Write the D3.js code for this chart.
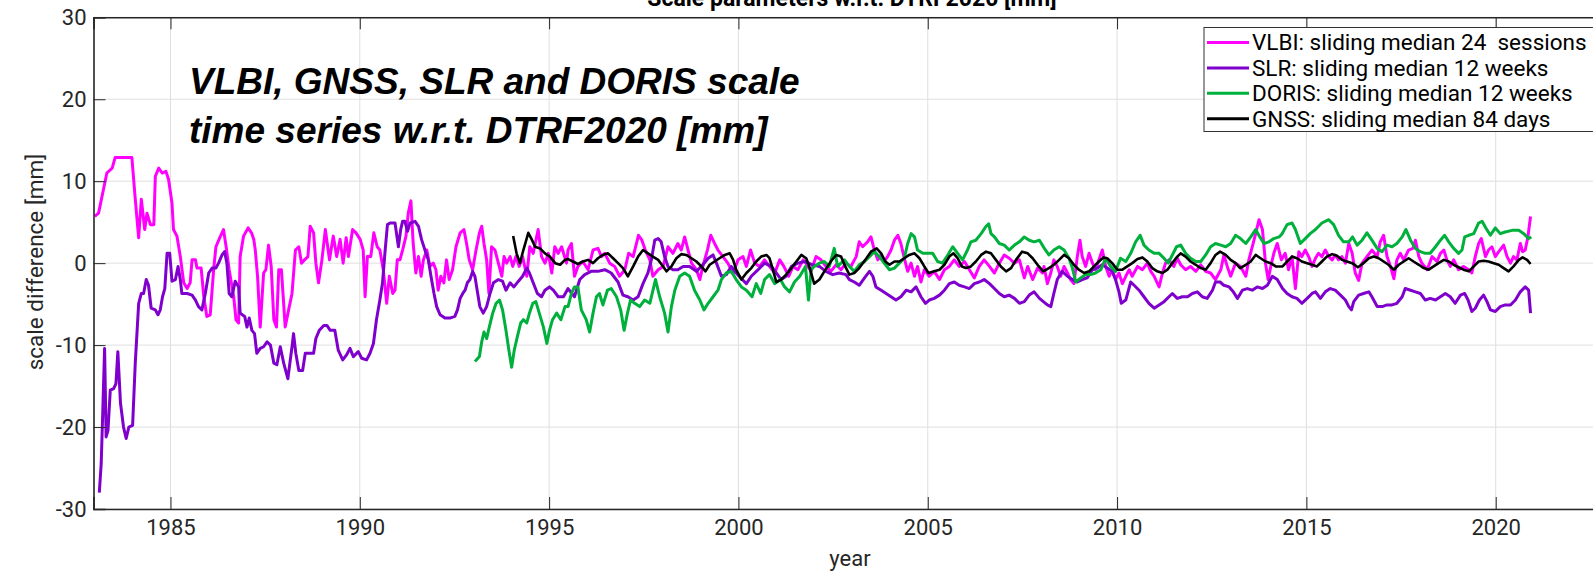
<!DOCTYPE html>
<html>
<head>
<meta charset="utf-8">
<script src="https://cdn.jsdelivr.net/npm/d3@7"></script>
<style>
  body { margin: 0; background: #fff; }
  text { font-family: Roboto, "Liberation Sans", sans-serif; }
</style>
</head>
<body>
<div class="canvas"></div>
<script>
const width = 1593;
const height = 573;

// series: [year, scale difference mm]
const vlbi = [
  [1983.00, 5.7], [1983.10, 6.1], [1983.32, 11.0], [1983.46, 11.6], [1983.54, 12.9], [1983.98, 12.9],
  [1984.07, 7.8], [1984.16, 3.1], [1984.23, 7.8], [1984.32, 4.1], [1984.38, 6.1], [1984.47, 4.7],
  [1984.56, 4.7], [1984.60, 10.6], [1984.69, 11.6], [1984.78, 11.0], [1984.88, 11.2], [1984.95, 10.2],
  [1985.04, 7.3], [1985.08, 4.1], [1985.17, 3.3], [1985.26, 0.8], [1985.35, -2.4], [1985.44, -3.1],
  [1985.52, -2.4], [1985.57, 0.4], [1985.66, 0.4], [1985.70, -0.6], [1985.81, -0.6], [1985.88, -4.1],
  [1985.96, -6.5], [1986.05, -6.3], [1986.14, -0.8], [1986.20, 2.0], [1986.32, 3.3], [1986.40, 4.1],
  [1986.47, 2.0], [1986.55, -0.8], [1986.67, -4.1], [1986.73, -6.9], [1986.80, -7.3], [1986.84, 0.8],
  [1986.93, 3.3], [1987.05, 4.3], [1987.14, 3.7], [1987.20, 2.9], [1987.24, 1.6], [1987.30, -1.6],
  [1987.37, -7.8], [1987.46, -1.2], [1987.52, -0.8], [1987.59, 2.2], [1987.66, -0.4], [1987.73, -6.9],
  [1987.80, -7.8], [1987.86, -0.8], [1987.93, -0.8], [1988.03, -7.8], [1988.12, -5.7], [1988.21, -3.7],
  [1988.30, 1.6], [1988.39, 2.0], [1988.46, 0.0], [1988.54, 0.4], [1988.63, 0.8], [1988.69, 4.5],
  [1988.78, 3.7], [1988.84, 0.0], [1988.91, -2.4], [1989.00, 0.4], [1989.09, 4.1], [1989.20, 0.4],
  [1989.30, 3.3], [1989.39, 0.8], [1989.48, 2.9], [1989.56, 0.0], [1989.64, 3.1], [1989.70, 0.8],
  [1989.81, 4.1], [1989.90, 3.7], [1990.01, 2.9], [1990.09, 1.6], [1990.14, -4.1], [1990.20, 0.8],
  [1990.29, 0.8], [1990.37, 3.7], [1990.46, 2.0], [1990.53, 1.6], [1990.62, -0.8], [1990.71, -4.9],
  [1990.78, -1.6], [1990.87, -3.7], [1990.93, -3.3], [1990.99, 0.4], [1991.06, 0.4], [1991.13, 1.6],
  [1991.22, 3.3], [1991.28, 6.1], [1991.35, 7.6], [1991.41, 2.4], [1991.48, -1.2], [1991.55, 0.8],
  [1991.62, -1.6], [1991.68, 0.4], [1991.77, 1.6], [1991.85, -0.4], [1991.94, 0.0], [1992.01, -0.8],
  [1992.07, -3.3], [1992.14, -1.6], [1992.22, -2.4], [1992.29, 0.4], [1992.36, -2.0], [1992.45, -0.8],
  [1992.54, 2.0], [1992.65, 3.7], [1992.75, 4.1], [1992.82, 2.4], [1992.89, 0.4], [1992.98, -0.8],
  [1993.07, 1.6], [1993.16, 3.7], [1993.22, 4.5], [1993.28, 2.4], [1993.35, 0.4], [1993.41, -3.7],
  [1993.48, 2.0], [1993.57, 1.6], [1993.66, 0.0], [1993.75, -1.6], [1993.81, 0.8], [1993.88, 0.0],
  [1993.97, 0.8], [1994.04, -0.4], [1994.12, 0.8], [1994.21, -0.4], [1994.30, 0.8], [1994.41, -1.6],
  [1994.49, 2.0], [1994.58, 1.2], [1994.71, 4.1], [1994.80, 0.8], [1994.89, 0.0], [1994.98, 1.2],
  [1995.07, -1.2], [1995.15, 2.0], [1995.24, 1.2], [1995.33, 2.0], [1995.46, 0.0],
  [1995.50, 1.6], [1995.59, 2.4], [1995.67, -1.6], [1995.76, -0.4], [1995.89, 0.2], [1996.03, -0.8],
  [1996.16, 1.6], [1996.29, 1.8], [1996.38, 0.8], [1996.47, 1.2], [1996.60, 0.0], [1996.73, -0.4],
  [1996.86, -1.6], [1997.00, -0.8], [1997.10, 1.2], [1997.22, 0.8], [1997.36, 3.4], [1997.45, 2.8],
  [1997.54, 1.6], [1997.66, 0.4], [1997.74, -1.6], [1997.88, -0.8], [1998.01, -0.4], [1998.14, 2.0],
  [1998.27, 1.2], [1998.40, 2.4], [1998.49, 1.6], [1998.58, 3.2], [1998.67, 1.6], [1998.76, 0.0],
  [1998.89, -0.8], [1998.98, -2.0], [1999.06, -0.4], [1999.18, 1.6], [1999.27, 3.4], [1999.37, 2.4],
  [1999.46, 1.6], [1999.59, 0.8], [1999.72, 0.0], [1999.86, -1.2], [1999.99, 0.4], [2000.12, 0.8],
  [2000.21, -0.4], [2000.32, 1.6], [2000.43, 0.0], [2000.56, -0.4], [2000.69, 0.4], [2000.82, -0.4],
  [2000.96, -1.2], [2001.09, 0.4], [2001.20, -0.4], [2001.33, -1.6], [2001.44, -0.4], [2001.57, -0.8],
  [2001.71, 0.4], [2001.78, 0.0], [2001.92, -1.0], [2002.05, 0.8], [2002.18, 0.4], [2002.31, -0.4],
  [2002.44, -1.0], [2002.58, -0.2], [2002.71, -0.8], [2002.84, 0.0], [2002.97, -0.4], [2003.11, 0.8],
  [2003.19, 2.6], [2003.28, 2.0], [2003.41, 2.6], [2003.50, 3.2], [2003.59, 1.6], [2003.68, 0.4],
  [2003.77, 1.0], [2003.85, 0.2], [2003.94, 0.8], [2004.03, 1.6], [2004.12, 2.8], [2004.21, 3.4],
  [2004.29, 2.4], [2004.38, 0.6], [2004.47, -1.0], [2004.56, 0.0], [2004.65, -1.6], [2004.73, -0.4],
  [2004.82, -2.3], [2004.91, -0.8], [2005.04, -1.6], [2005.17, -1.0], [2005.31, -2.0], [2005.44, -0.8],
  [2005.57, -0.4], [2005.70, 0.4], [2005.83, -0.4], [2005.97, 0.2], [2006.10, -0.8], [2006.23, -1.8],
  [2006.36, -0.4], [2006.49, 0.4], [2006.63, -0.4], [2006.76, -1.2], [2006.89, 0.0], [2007.02, 1.0],
  [2007.15, 0.6], [2007.29, 0.0], [2007.42, 0.4], [2007.55, -1.8], [2007.64, -0.4], [2007.77, -2.0],
  [2007.90, -0.6], [2008.03, -1.2], [2008.07, -0.4], [2008.16, -2.5], [2008.25, -1.2], [2008.33, 0.4],
  [2008.42, -0.4], [2008.51, -1.6], [2008.60, -0.4], [2008.69, -1.2], [2008.77, -2.0], [2008.86, -2.5],
  [2008.95, 0.8], [2009.02, 2.8], [2009.08, 0.8], [2009.17, -0.4], [2009.26, 1.2], [2009.35, 0.0],
  [2009.43, -0.8], [2009.52, 0.4], [2009.61, 1.6], [2009.70, -0.4], [2009.79, -1.6], [2009.87, -0.8],
  [2009.96, -2.0], [2010.05, -1.2], [2010.14, -2.5], [2010.23, -1.6], [2010.32, -0.8], [2010.40, -1.6],
  [2010.54, -0.4], [2010.67, -0.8], [2010.80, 0.0], [2010.89, -1.0], [2010.98, -1.6], [2011.11, -2.9],
  [2011.20, -1.2], [2011.28, 0.0], [2011.37, 0.4], [2011.50, -0.4], [2011.59, 0.6], [2011.68, -0.2],
  [2011.81, -0.8], [2011.94, -0.4], [2012.08, -1.0], [2012.21, -0.2], [2012.34, -1.0], [2012.47, -1.2],
  [2012.60, -2.0], [2012.74, -0.8], [2012.82, 1.0], [2012.91, -0.4], [2013.00, -1.6], [2013.13, 0.0],
  [2013.26, -0.4], [2013.40, -1.6], [2013.48, 0.4], [2013.57, 2.0], [2013.66, 3.6], [2013.75, 5.3],
  [2013.84, 4.1], [2013.92, 0.0], [2013.99, -2.0], [2014.06, -0.4], [2014.14, 1.2], [2014.23, 2.4],
  [2014.34, 0.4], [2014.44, 1.2], [2014.53, -0.8], [2014.62, 0.8], [2014.71, -3.1], [2014.80, 1.4],
  [2014.88, 0.8], [2014.97, 1.6], [2015.06, 0.8], [2015.15, -0.4], [2015.24, 0.6], [2015.32, 1.2],
  [2015.41, 0.8], [2015.50, 1.6], [2015.59, 0.8], [2015.68, 0.4], [2015.76, 1.0], [2015.85, 0.4],
  [2015.94, 0.8], [2016.03, 0.0], [2016.12, 2.4], [2016.21, 1.2], [2016.29, -1.2], [2016.38, -2.1],
  [2016.47, 0.0], [2016.60, 0.8], [2016.73, 1.6], [2016.87, 0.8], [2016.95, 2.6], [2017.04, 3.4],
  [2017.13, 0.8], [2017.22, -0.4], [2017.31, -1.9], [2017.39, 0.4], [2017.48, 1.2], [2017.57, 0.4],
  [2017.70, 1.6], [2017.81, 1.8], [2017.88, 2.8], [2017.97, 0.8], [2018.05, 0.0], [2018.19, -0.8],
  [2018.32, 0.8], [2018.45, 0.2], [2018.54, 1.2], [2018.63, 1.6], [2018.71, 0.4], [2018.80, -0.4],
  [2018.89, 0.4], [2019.02, -0.8], [2019.15, -0.4], [2019.29, -0.8], [2019.37, -1.2], [2019.46, 0.8],
  [2019.55, 2.4], [2019.62, 3.0], [2019.73, 0.8], [2019.81, 1.6], [2019.90, 2.0], [2019.99, 0.8],
  [2020.08, 1.4], [2020.21, 2.2], [2020.30, 0.8], [2020.39, 0.0], [2020.47, 0.8], [2020.56, 0.4],
  [2020.65, 2.4], [2020.71, 1.4], [2020.78, 1.6], [2020.85, 3.2], [2020.92, 5.7]
];

const slr = [
  [1983.12, -28.0], [1983.17, -24.5], [1983.21, -18.4], [1983.26, -10.4], [1983.30, -21.2], [1983.35, -20.4],
  [1983.41, -15.5], [1983.50, -15.3], [1983.56, -14.7], [1983.61, -10.8], [1983.68, -17.1], [1983.76, -20.0],
  [1983.83, -21.4], [1983.90, -20.0], [1984.00, -19.8], [1984.07, -12.2], [1984.16, -4.9], [1984.23, -3.7],
  [1984.29, -3.7], [1984.36, -2.0], [1984.42, -2.7], [1984.49, -5.5], [1984.60, -5.7], [1984.67, -6.3],
  [1984.73, -5.7], [1984.79, -4.1], [1984.85, -3.1], [1984.91, 1.2], [1984.98, 1.2], [1985.04, -2.2],
  [1985.13, -2.0], [1985.20, -0.4], [1985.26, -2.0], [1985.30, -3.7], [1985.44, -3.7], [1985.57, -3.9],
  [1985.66, -4.5], [1985.74, -5.3], [1985.83, -5.7], [1985.92, -3.7], [1986.01, -1.2], [1986.10, -0.6],
  [1986.20, -0.6], [1986.27, 0.0], [1986.36, 1.0], [1986.43, 1.4], [1986.49, 0.0], [1986.55, -3.7],
  [1986.62, -4.1], [1986.71, -2.2], [1986.80, -2.9], [1986.84, -6.1], [1986.96, -6.5], [1987.02, -7.8],
  [1987.08, -6.7], [1987.15, -8.2], [1987.22, -8.6], [1987.28, -11.0], [1987.37, -10.4], [1987.46, -10.2],
  [1987.55, -9.6], [1987.64, -10.0], [1987.73, -12.2], [1987.81, -12.4], [1987.90, -10.2], [1987.99, -12.2],
  [1988.10, -14.1], [1988.21, -10.2], [1988.25, -8.6], [1988.31, -11.0], [1988.39, -13.1], [1988.49, -13.1],
  [1988.56, -11.0], [1988.65, -11.0], [1988.78, -11.0], [1988.84, -9.2], [1988.93, -8.2], [1989.05, -7.6],
  [1989.13, -7.6], [1989.22, -8.2], [1989.34, -8.2], [1989.43, -10.6], [1989.55, -11.8], [1989.65, -11.2],
  [1989.74, -10.4], [1989.83, -11.4], [1989.96, -10.8], [1990.05, -11.6], [1990.18, -11.8], [1990.27, -11.0],
  [1990.36, -9.8], [1990.44, -6.9], [1990.53, -4.5], [1990.60, -2.4], [1990.67, 1.6], [1990.73, 4.7],
  [1990.80, 4.9], [1990.93, 4.9], [1991.02, 2.0], [1991.08, 4.1], [1991.13, 5.1], [1991.19, 5.1],
  [1991.26, 3.9], [1991.33, 4.9], [1991.46, 5.1], [1991.55, 4.5], [1991.63, 2.9], [1991.72, 1.6],
  [1991.81, 0.4], [1991.88, -1.6], [1991.96, -3.7], [1992.03, -5.3], [1992.12, -6.3], [1992.25, -6.7],
  [1992.38, -6.7], [1992.51, -6.5], [1992.58, -5.7], [1992.65, -4.3], [1992.72, -3.7], [1992.78, -3.3],
  [1992.84, -2.4], [1992.91, -2.0], [1992.98, -1.0], [1993.04, -1.6], [1993.10, -3.3], [1993.17, -5.3],
  [1993.26, -6.1], [1993.35, -5.3], [1993.44, -3.7], [1993.53, -2.4], [1993.66, -2.0], [1993.77, -2.2],
  [1993.86, -3.3], [1993.97, -2.4], [1994.07, -2.9], [1994.19, -2.2], [1994.30, -1.6], [1994.41, -0.6],
  [1994.48, -1.2], [1994.58, -2.4], [1994.69, -3.7], [1994.80, -4.1], [1994.89, -3.3], [1995.01, -2.9],
  [1995.11, -3.3], [1995.24, -4.1], [1995.38, -4.1], [1995.50, -3.1], [1995.67, -4.1], [1995.81, -2.0],
  [1995.94, -1.4], [1996.11, -1.0], [1996.29, -1.0], [1996.47, -0.8], [1996.64, -1.2], [1996.82, -2.3],
  [1996.95, -3.9], [1997.08, -4.1], [1997.22, -4.5], [1997.35, -4.1], [1997.48, -2.5], [1997.61, -1.2],
  [1997.70, 0.4], [1997.79, 2.8], [1997.88, 3.0], [1997.96, 2.6], [1998.05, 0.8], [1998.14, -0.4],
  [1998.27, -0.8], [1998.40, -0.8], [1998.54, -0.4], [1998.71, -0.4], [1998.89, -1.0], [1999.06, -0.2],
  [1999.20, 0.6], [1999.33, 1.0], [1999.42, 0.0], [1999.55, -1.6], [1999.68, -1.4], [1999.81, -0.4],
  [1999.94, -1.2], [2000.08, -1.9], [2000.21, -2.5], [2000.34, -1.6], [2000.52, -0.8], [2000.69, 0.0],
  [2000.87, -0.4], [2001.00, -1.2], [2001.13, -2.0], [2001.26, -1.6], [2001.40, -0.4], [2001.57, 0.0],
  [2001.75, 0.2], [2001.96, -0.2], [2002.14, -0.4], [2002.31, -1.0], [2002.49, -1.4], [2002.66, -1.2],
  [2002.84, -1.4], [2002.93, -2.0], [2003.06, -2.3], [2003.19, -2.7], [2003.33, -1.8], [2003.46, -1.0],
  [2003.55, -1.6], [2003.63, -2.9], [2003.77, -3.3], [2003.90, -3.7], [2004.03, -4.1], [2004.16, -4.5],
  [2004.29, -4.1], [2004.43, -3.3], [2004.56, -3.5], [2004.69, -2.9], [2004.82, -4.1], [2004.94, -4.9],
  [2005.04, -4.5], [2005.17, -4.3], [2005.31, -3.9], [2005.44, -3.3], [2005.57, -2.5], [2005.70, -2.3],
  [2005.83, -2.7], [2005.97, -2.9], [2006.10, -3.1], [2006.23, -2.5], [2006.36, -2.3], [2006.49, -2.0],
  [2006.63, -2.5], [2006.76, -3.1], [2006.89, -3.7], [2007.02, -4.1], [2007.15, -3.9], [2007.29, -4.3],
  [2007.42, -4.9], [2007.55, -4.7], [2007.68, -3.9], [2007.81, -3.5], [2007.95, -4.3], [2008.11, -4.9],
  [2008.16, -5.1], [2008.25, -5.3], [2008.33, -3.7], [2008.42, -2.0], [2008.55, -1.0], [2008.69, -1.6],
  [2008.82, -2.0], [2008.95, -2.3], [2009.08, -2.0], [2009.21, -1.8], [2009.35, -0.8], [2009.48, -0.6],
  [2009.61, -0.2], [2009.74, -0.6], [2009.87, -1.0], [2009.96, -2.0], [2010.05, -3.5], [2010.11, -4.9],
  [2010.23, -4.5], [2010.36, -2.3], [2010.45, -2.7], [2010.58, -3.3], [2010.71, -4.1], [2010.84, -4.9],
  [2010.98, -5.5], [2011.11, -5.1], [2011.24, -4.7], [2011.37, -4.1], [2011.46, -3.7], [2011.59, -4.3],
  [2011.72, -4.1], [2011.86, -4.1], [2011.99, -3.7], [2012.12, -3.5], [2012.25, -4.1], [2012.38, -4.3],
  [2012.52, -3.3], [2012.60, -2.3], [2012.72, -2.3], [2012.82, -2.7], [2012.96, -2.9], [2013.07, -3.5],
  [2013.18, -4.3], [2013.31, -3.3], [2013.44, -3.1], [2013.57, -3.3], [2013.70, -2.9], [2013.84, -3.1],
  [2013.97, -2.7], [2014.10, -1.6], [2014.23, -2.0], [2014.37, -3.1], [2014.49, -3.7], [2014.62, -4.1],
  [2014.75, -4.3], [2014.88, -4.9], [2015.02, -4.3], [2015.15, -3.7], [2015.24, -3.5], [2015.37, -4.3],
  [2015.50, -3.5], [2015.63, -3.1], [2015.76, -3.3], [2015.90, -3.9], [2016.03, -4.5], [2016.12, -5.3],
  [2016.19, -5.7], [2016.25, -4.7], [2016.38, -3.9], [2016.51, -3.7], [2016.65, -3.5], [2016.73, -4.1],
  [2016.87, -5.3], [2017.00, -5.3], [2017.13, -5.1], [2017.26, -5.1], [2017.39, -4.9], [2017.53, -4.1],
  [2017.61, -3.1], [2017.75, -3.3], [2017.88, -3.5], [2018.01, -3.7], [2018.14, -4.5], [2018.27, -4.3],
  [2018.41, -4.5], [2018.54, -4.1], [2018.67, -3.7], [2018.80, -4.1], [2018.93, -4.9], [2019.07, -3.9],
  [2019.18, -3.7], [2019.27, -4.5], [2019.37, -5.9], [2019.46, -5.5], [2019.57, -4.5], [2019.68, -3.9],
  [2019.77, -4.7], [2019.86, -5.7], [2019.99, -5.9], [2020.12, -5.3], [2020.25, -5.1], [2020.39, -5.1],
  [2020.52, -4.5], [2020.65, -3.5], [2020.78, -2.9], [2020.87, -3.3], [2020.92, -6.1]
];

const doris = [
  [1993.04, -12.0], [1993.16, -11.4], [1993.22, -9.6], [1993.28, -8.4], [1993.35, -9.2], [1993.42, -7.8],
  [1993.51, -6.1], [1993.60, -4.9], [1993.69, -4.5], [1993.77, -5.7], [1993.86, -8.2], [1993.95, -11.0],
  [1994.01, -12.7], [1994.08, -10.6], [1994.16, -9.0], [1994.25, -7.3], [1994.32, -6.9], [1994.41, -7.3],
  [1994.48, -6.1], [1994.57, -4.9], [1994.65, -4.7], [1994.74, -6.1], [1994.85, -7.8], [1994.94, -9.8],
  [1995.01, -8.2], [1995.09, -6.9], [1995.20, -6.1], [1995.31, -6.9], [1995.42, -5.3], [1995.50, -5.3],
  [1995.59, -3.7], [1995.67, -2.9], [1995.76, -2.9], [1995.85, -5.7], [1995.98, -6.9], [1996.07, -8.4],
  [1996.16, -6.1], [1996.25, -4.1], [1996.33, -3.7], [1996.42, -5.1], [1996.54, -3.3], [1996.64, -3.1],
  [1996.78, -4.1], [1996.89, -5.7], [1996.98, -8.2], [1997.07, -6.1], [1997.15, -4.5], [1997.26, -4.9],
  [1997.39, -5.3], [1997.52, -4.5], [1997.66, -4.9], [1997.81, -2.0], [1997.92, -4.1], [1998.05, -6.1],
  [1998.14, -8.4], [1998.23, -5.3], [1998.32, -3.3], [1998.45, -1.6], [1998.58, -1.2], [1998.71, -1.6],
  [1998.84, -3.3], [1998.98, -4.5], [1999.09, -5.7], [1999.20, -4.9], [1999.33, -4.1], [1999.46, -3.3],
  [1999.55, -2.0], [1999.68, -1.2], [1999.81, -1.0], [1999.94, -2.0], [2000.08, -2.9], [2000.21, -3.3],
  [2000.36, -4.1], [2000.47, -2.5], [2000.59, -3.7], [2000.69, -2.0], [2000.82, -1.4], [2000.96, -2.5],
  [2001.11, -2.0], [2001.22, -2.9], [2001.35, -3.5], [2001.48, -2.3], [2001.62, -1.6], [2001.77, -0.4],
  [2001.85, -4.5], [2001.92, -0.8], [2002.00, -0.4], [2002.14, 0.0], [2002.27, 0.2], [2002.40, -0.4],
  [2002.53, 1.8], [2002.62, -0.4], [2002.71, 0.0], [2002.80, 0.4], [2002.93, -0.4], [2003.06, -1.0],
  [2003.19, -0.2], [2003.33, 0.2], [2003.46, 0.8], [2003.59, 1.4], [2003.72, 0.8], [2003.85, 0.0],
  [2003.99, -0.8], [2004.12, -0.6], [2004.25, 0.0], [2004.38, 0.6], [2004.47, 2.4], [2004.56, 3.6],
  [2004.65, 3.2], [2004.73, 1.6], [2004.87, 1.2], [2005.00, 1.2], [2005.13, 1.2], [2005.26, 0.2],
  [2005.39, 0.0], [2005.53, 1.0], [2005.66, 2.0], [2005.79, 1.2], [2005.92, 0.4], [2006.05, 1.6],
  [2006.14, 2.6], [2006.27, 2.8], [2006.41, 3.6], [2006.54, 4.5], [2006.61, 4.8], [2006.67, 3.6],
  [2006.76, 3.2], [2006.89, 2.4], [2007.02, 2.2], [2007.15, 1.6], [2007.29, 2.2], [2007.42, 2.6],
  [2007.55, 3.2], [2007.68, 2.8], [2007.81, 2.6], [2007.95, 2.8], [2008.08, 1.8], [2008.20, 1.0],
  [2008.33, 1.6], [2008.47, 2.0], [2008.60, 1.6], [2008.73, 0.6], [2008.82, -0.6], [2008.91, -2.3],
  [2009.04, -1.8], [2009.17, -1.4], [2009.30, -1.4], [2009.43, -1.2], [2009.57, -0.8], [2009.70, 0.6],
  [2009.83, -0.4], [2009.96, -1.0], [2010.09, 0.6], [2010.23, 0.2], [2010.36, 1.2], [2010.49, 2.6],
  [2010.61, 3.4], [2010.71, 2.2], [2010.84, 1.6], [2010.98, 1.2], [2011.11, 1.2], [2011.24, 0.6],
  [2011.35, 0.0], [2011.46, 1.0], [2011.57, 2.0], [2011.68, 2.2], [2011.81, 1.2], [2011.94, 0.6],
  [2012.08, 0.2], [2012.21, 0.2], [2012.34, 1.0], [2012.47, 2.0], [2012.60, 2.4], [2012.74, 2.2],
  [2012.87, 2.0], [2013.00, 2.4], [2013.13, 3.4], [2013.26, 3.0], [2013.40, 2.4], [2013.53, 3.2],
  [2013.66, 4.1], [2013.77, 3.2], [2013.88, 2.4], [2014.01, 2.6], [2014.14, 3.0], [2014.28, 3.2],
  [2014.36, 3.6], [2014.49, 4.7], [2014.62, 4.9], [2014.71, 4.1], [2014.84, 2.4], [2014.97, 3.0],
  [2015.10, 3.6], [2015.24, 4.1], [2015.41, 4.9], [2015.59, 5.3], [2015.72, 4.7], [2015.85, 3.4],
  [2015.98, 2.6], [2016.12, 2.6], [2016.22, 3.2], [2016.34, 2.2], [2016.47, 2.8], [2016.60, 3.7],
  [2016.73, 2.8], [2016.87, 1.8], [2017.00, 1.4], [2017.13, 2.2], [2017.26, 2.0], [2017.39, 2.4],
  [2017.53, 3.2], [2017.63, 4.1], [2017.75, 2.8], [2017.88, 1.8], [2018.01, 1.4], [2018.14, 1.2],
  [2018.27, 1.2], [2018.41, 2.0], [2018.54, 2.8], [2018.65, 3.4], [2018.76, 2.6], [2018.89, 1.8],
  [2019.02, 1.2], [2019.11, 1.6], [2019.18, 3.2], [2019.29, 3.4], [2019.42, 3.6], [2019.55, 4.9],
  [2019.64, 5.1], [2019.74, 4.3], [2019.86, 3.4], [2019.99, 4.3], [2020.12, 3.6], [2020.25, 3.8],
  [2020.43, 4.0], [2020.61, 4.0], [2020.74, 3.6], [2020.87, 3.0], [2020.94, 3.2]
];

const gnss = [
  [1994.05, 3.3], [1994.14, 1.2], [1994.23, 0.0], [1994.32, 1.6], [1994.45, 3.7], [1994.54, 2.9],
  [1994.63, 2.0], [1994.76, 1.8], [1994.89, 1.2], [1995.02, 0.8], [1995.16, 0.0], [1995.29, -0.2],
  [1995.42, 0.4], [1995.50, 0.5], [1995.63, 0.2], [1995.76, -0.1], [1995.89, 0.2], [1996.03, 0.4],
  [1996.16, 0.0], [1996.29, 0.6], [1996.42, 1.0], [1996.55, 1.2], [1996.69, 0.6], [1996.82, 0.0],
  [1996.95, -0.6], [1997.08, -1.6], [1997.22, -0.4], [1997.35, 0.8], [1997.48, 1.6], [1997.61, 1.2],
  [1997.74, 0.8], [1997.88, 0.4], [1998.01, -0.4], [1998.10, -1.0], [1998.23, -0.4], [1998.36, 0.6],
  [1998.49, 1.1], [1998.62, 1.0], [1998.76, 0.6], [1998.89, 0.2], [1999.02, -0.4], [1999.13, -1.0],
  [1999.24, -0.2], [1999.37, 0.2], [1999.50, 0.6], [1999.64, 1.0], [1999.77, 1.2], [1999.86, 0.4],
  [1999.94, -0.8], [2000.08, -2.0], [2000.21, -1.2], [2000.34, -0.6], [2000.47, 0.2], [2000.60, 0.8],
  [2000.74, 1.0], [2000.82, 0.6], [2000.91, -0.8], [2001.00, -2.3], [2001.13, -2.0], [2001.26, -1.4],
  [2001.40, -0.6], [2001.53, 0.2], [2001.66, 1.0], [2001.79, 0.6], [2001.87, -0.4], [2002.00, -2.5],
  [2002.14, -2.0], [2002.27, -1.0], [2002.44, 0.2], [2002.58, 1.0], [2002.71, 0.8], [2002.82, -0.4],
  [2002.93, -1.4], [2003.06, -1.2], [2003.19, -0.6], [2003.35, 0.4], [2003.50, 1.4], [2003.65, 1.8],
  [2003.77, 1.2], [2003.88, 0.2], [2003.99, -0.2], [2004.12, 0.2], [2004.25, 0.2], [2004.38, 0.6],
  [2004.51, 1.0], [2004.65, 1.2], [2004.78, 0.6], [2004.91, -0.4], [2005.02, -1.2], [2005.17, -1.0],
  [2005.31, -0.8], [2005.44, -0.2], [2005.57, 0.8], [2005.68, 1.2], [2005.79, 0.6], [2005.90, -0.4],
  [2006.01, -0.6], [2006.14, -0.4], [2006.27, 0.2], [2006.41, 1.0], [2006.54, 1.4], [2006.67, 1.2],
  [2006.80, 0.4], [2006.93, -0.4], [2007.07, -1.0], [2007.20, -0.6], [2007.33, 0.4], [2007.49, 1.4],
  [2007.64, 1.2], [2007.77, 0.6], [2007.90, -0.2], [2008.05, -1.0], [2008.20, -0.6], [2008.33, -0.2],
  [2008.47, 0.4], [2008.60, 1.0], [2008.73, 0.6], [2008.86, -0.2], [2008.99, -0.8], [2009.13, -1.2],
  [2009.26, -1.0], [2009.39, -0.4], [2009.52, 0.2], [2009.64, 0.7], [2009.74, 0.6], [2009.87, 0.0],
  [2010.01, -0.8], [2010.14, -0.8], [2010.27, -0.4], [2010.40, 0.0], [2010.54, 0.5], [2010.67, 0.7],
  [2010.80, 0.2], [2010.93, -0.6], [2011.06, -1.0], [2011.20, -1.2], [2011.33, -0.8], [2011.46, 0.0],
  [2011.59, 0.8], [2011.68, 1.2], [2011.81, 0.8], [2011.94, 0.2], [2012.08, -0.2], [2012.21, -0.6],
  [2012.34, -0.8], [2012.47, 0.0], [2012.60, 1.0], [2012.72, 1.4], [2012.87, 1.0], [2013.00, 0.4],
  [2013.13, 0.0], [2013.25, -0.6], [2013.40, -0.2], [2013.53, 0.2], [2013.66, 1.0], [2013.79, 0.6],
  [2013.92, 0.2], [2014.06, 0.0], [2014.19, -0.4], [2014.37, -0.4], [2014.49, 0.2], [2014.62, 0.8],
  [2014.75, 0.6], [2014.88, 0.2], [2015.02, 0.0], [2015.15, -0.2], [2015.28, -0.4], [2015.41, 0.2],
  [2015.54, 0.8], [2015.68, 1.1], [2015.81, 0.9], [2015.94, 0.4], [2016.07, 0.2], [2016.21, 0.0],
  [2016.36, -0.5], [2016.51, 0.0], [2016.65, 0.6], [2016.78, 0.8], [2016.91, 0.6], [2017.04, 0.2],
  [2017.17, -0.2], [2017.31, -0.8], [2017.44, -0.2], [2017.57, 0.2], [2017.70, 0.6], [2017.83, 0.2],
  [2017.97, -0.2], [2018.10, -0.6], [2018.23, -0.8], [2018.36, -0.4], [2018.49, 0.0], [2018.63, 0.4],
  [2018.76, 0.2], [2018.89, -0.2], [2019.02, -0.5], [2019.15, -0.8], [2019.29, -1.0], [2019.42, -0.4],
  [2019.55, 0.2], [2019.68, 0.3], [2019.81, 0.2], [2019.95, 0.0], [2020.08, -0.2], [2020.21, -0.6],
  [2020.34, -1.0], [2020.47, -0.4], [2020.61, 0.4], [2020.71, 0.7], [2020.83, 0.4], [2020.92, -0.1]
];

const xTicks = [1985, 1990, 1995, 2000, 2005, 2010, 2015, 2020];
const yTicks = [-30, -20, -10, 0, 10, 20, 30];
const legendLabels = [
  "VLBI: sliding median 24  sessions",
  "SLR: sliding median 12 weeks",
  "DORIS: sliding median 12 weeks",
  "GNSS: sliding median 84 days"
];
const titleText = "Scale parameters w.r.t. DTRF2020 [mm]";
const noteLines = ["VLBI, GNSS, SLR and DORIS scale", "time series w.r.t. DTRF2020 [mm]"];

const colors = ["#ff00ff", "#7f00cc", "#00b03c", "#000000"];
const axisColor = "#262626";

const svg = d3
  .select(".canvas")
  .append("svg")
  .attr("width", width)
  .attr("height", height)
  .style("display", "block");

// plot box; the right edge runs off the canvas like in the original
const margin = { top: 17.3, left: 93.5, bottom: 64 };
const plotRight = 1611;
const plotBottom = height - margin.bottom;

const xScale = d3.scaleLinear()
  .domain([1982.967, 2023.045])
  .range([margin.left, plotRight]);

const yScale = d3.scaleLinear()
  .domain([-30, 30])
  .range([plotBottom, margin.top]);

// grid
const grid = svg.append("g").attr("stroke", "#dfdfdf").attr("stroke-width", 1);
grid.selectAll(".gx")
  .data(xTicks)
  .enter()
  .append("line")
  .attr("x1", d => xScale(d)).attr("x2", d => xScale(d))
  .attr("y1", margin.top).attr("y2", plotBottom);
grid.selectAll(".gy")
  .data(yTicks)
  .enter()
  .append("line")
  .attr("x1", margin.left).attr("x2", plotRight)
  .attr("y1", d => yScale(d)).attr("y2", d => yScale(d));

svg.append("clipPath")
  .attr("id", "plot-clip")
  .append("rect")
  .attr("x", margin.left)
  .attr("y", margin.top)
  .attr("width", plotRight - margin.left)
  .attr("height", plotBottom - margin.top);

const line = d3.line()
  .x(d => xScale(d[0]))
  .y(d => yScale(d[1]));

const series = [vlbi, slr, doris, gnss];

svg.append("g")
  .attr("clip-path", "url(#plot-clip)")
  .selectAll("path")
  .data(series)
  .enter()
  .append("path")
  .attr("d", line)
  .attr("fill", "none")
  .attr("stroke", (d, i) => colors[i])
  .attr("stroke-width", (d, i) => i === 3 ? 2.6 : 3)
  .attr("stroke-linejoin", "round");

// axes (ticks point inwards), plain hyphen for negatives like MATLAB
const plainNum = d => (d < 0 ? "-" + Math.abs(d) : String(d));

const xAxis = d3.axisBottom(xScale)
  .tickValues(xTicks)
  .tickSize(-12)
  .tickPadding(10)
  .tickFormat(plainNum);

const xAxisTop = d3.axisTop(xScale)
  .tickValues(xTicks)
  .tickSize(-12)
  .tickFormat("");

const yAxis = d3.axisLeft(yScale)
  .tickValues(yTicks)
  .tickSize(-12)
  .tickPadding(7)
  .tickFormat(plainNum);

const gx = svg.append("g")
  .attr("transform", `translate(0, ${plotBottom})`)
  .call(xAxis);

const gxTop = svg.append("g")
  .attr("transform", `translate(0, ${margin.top})`)
  .call(xAxisTop);

const gy = svg.append("g")
  .attr("transform", `translate(${margin.left}, 0)`)
  .call(yAxis);

[gx, gxTop, gy].forEach(g => {
  g.select(".domain").attr("stroke", axisColor).attr("stroke-width", 1.6);
  g.selectAll(".tick line").attr("stroke", axisColor).attr("stroke-width", 1);
  g.selectAll(".tick text")
    .attr("fill", axisColor)
    .style("font-family", "Roboto, sans-serif")
    .style("font-size", "22px");
});

// axis labels
svg.append("text")
  .attr("x", 850)
  .attr("y", 566)
  .attr("text-anchor", "middle")
  .attr("fill", axisColor)
  .style("font-size", "22px")
  .text("year");

svg.append("text")
  .attr("transform", "translate(43, 262) rotate(-90)")
  .attr("text-anchor", "middle")
  .attr("fill", axisColor)
  .style("font-size", "22.5px")
  .text("scale difference [mm]");

// title, its top is cut by the page edge as in the original
svg.append("text")
  .attr("x", 852)
  .attr("y", 6)
  .attr("text-anchor", "middle")
  .attr("fill", "#000")
  .style("font-size", "23px")
  .style("font-weight", "bold")
  .text(titleText);

// annotation
svg.selectAll(".note")
  .data(noteLines)
  .enter()
  .append("text")
  .attr("x", 189)
  .attr("y", (d, i) => 94 + i * 49)
  .attr("fill", "#000")
  .style("font-family", "'Liberation Sans', Arial, sans-serif")
  .style("font-size", "37px")
  .style("font-weight", "bold")
  .style("font-style", "italic")
  .text(d => d);

// legend
const legend = svg.append("g");
legend.append("rect")
  .attr("x", 1204)
  .attr("y", 27.5)
  .attr("width", 430)
  .attr("height", 104)
  .attr("fill", "#fff")
  .attr("stroke", "#333")
  .attr("stroke-width", 1);

const rows = legend.selectAll(".row")
  .data(legendLabels)
  .enter()
  .append("g")
  .attr("transform", (d, i) => `translate(1207, ${42.5 + i * 25.4})`);

rows.append("line")
  .attr("x1", 0).attr("x2", 42)
  .attr("stroke", (d, i) => colors[i])
  .attr("stroke-width", 3);

rows.append("text")
  .attr("x", 45)
  .attr("dy", "0.35em")
  .attr("fill", "#000")
  .style("font-size", "22.5px")
  .style("white-space", "pre")
  .text(d => d);
</script>
</body>
</html>
